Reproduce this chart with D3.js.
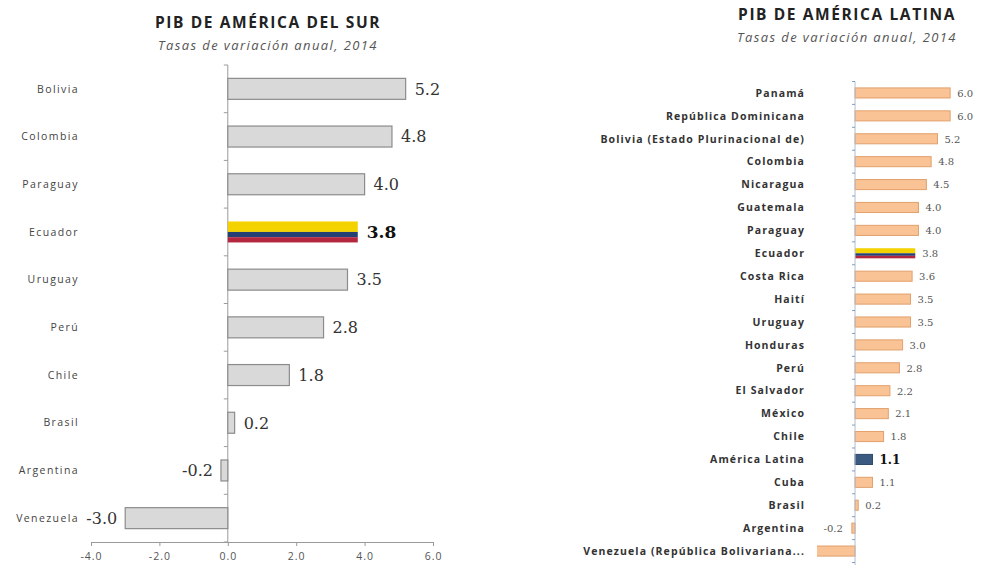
<!DOCTYPE html>
<html>
<head>
<meta charset="utf-8">
<script src="https://cdn.jsdelivr.net/npm/d3@7"></script>
<style>
  html, body { margin: 0; padding: 0; background: #fff; }
  svg { display: block; }
</style>
</head>
<body>
<svg id="chart" width="982" height="565"></svg>
<script>
// PIB de América del Sur, tasas de variación anual 2014
const categoriesSur = ["Bolivia", "Colombia", "Paraguay", "Ecuador", "Uruguay", "Perú", "Chile", "Brasil", "Argentina", "Venezuela"];
const valuesSur = [5.2, 4.8, 4.0, 3.8, 3.5, 2.8, 1.8, 0.2, -0.2, -3.0];
const ticksSur = [-4, -2, 0, 2, 4, 6];

// PIB de América Latina, tasas de variación anual 2014
const categoriesLat = ["Panamá", "República Dominicana", "Bolivia (Estado Plurinacional de)", "Colombia", "Nicaragua",
  "Guatemala", "Paraguay", "Ecuador", "Costa Rica", "Haití", "Uruguay", "Honduras", "Perú", "El Salvador", "México",
  "Chile", "América Latina", "Cuba", "Brasil", "Argentina", "Venezuela (República Bolivariana..."];
const valuesLat = [6.0, 6.0, 5.2, 4.8, 4.5, 4.0, 4.0, 3.8, 3.6, 3.5, 3.5, 3.0, 2.8, 2.2, 2.1, 1.8, 1.1, 1.1, 0.2, -0.2, -3.0];

const flagCountry = "Ecuador";
const regionTotal = "América Latina";

const loc = d3.formatLocale({decimal: ".", thousands: ",", grouping: [3], currency: ["", ""], minus: "-"});
const fmt = loc.format(".1f");

const svg = d3.select("#chart");

// Ecuador bar drawn as its flag: yellow half, blue and red quarters
function flagBar(g, x0, x1, y, h) {
  const xa = Math.min(x0, x1), w = Math.abs(x1 - x0);
  g.append("rect").attr("x", xa).attr("y", y).attr("width", w).attr("height", h / 2).attr("fill", "#f4d200");
  g.append("rect").attr("x", xa).attr("y", y + h / 2).attr("width", w).attr("height", h / 4).attr("fill", "#243f73");
  g.append("rect").attr("x", xa).attr("y", y + 3 * h / 4).attr("width", w).attr("height", h / 4).attr("fill", "#b3263e");
}

function titles(g, cx, yTitle, ySub, title) {
  g.append("text").attr("x", cx).attr("y", yTitle).attr("text-anchor", "middle")
    .attr("font-family", "Open Sans").attr("font-weight", "bold").attr("font-size", 15.5)
    .attr("letter-spacing", 1.6).attr("fill", "#222")
    .text(title);
  g.append("text").attr("x", cx).attr("y", ySub).attr("text-anchor", "middle")
    .attr("font-family", "Open Sans").attr("font-style", "italic").attr("font-size", 13)
    .attr("letter-spacing", 1.4).attr("fill", "#555")
    .text("Tasas de variación anual, 2014");
}

/* ---------- left panel ---------- */
{
  const x = d3.scaleLinear().domain([-4, 6]).range([91, 433]);
  const top = 65, bottom = 542;
  const y = d3.scaleBand().domain(categoriesSur).range([top, bottom]).paddingInner(0.56).paddingOuter(0.28);
  const g = svg.append("g");

  titles(g, 268, 28, 50, "PIB DE AMÉRICA DEL SUR");

  // x axis
  const xAxis = g.append("g").attr("transform", `translate(0,${bottom})`)
    .call(d3.axisBottom(x).tickValues(ticksSur).tickFormat(fmt).tickSize(4).tickSizeOuter(0));
  xAxis.select(".domain").attr("stroke", "#9a9a9a");
  xAxis.selectAll(".tick line").attr("stroke", "#9a9a9a");
  xAxis.selectAll(".tick text").attr("font-family", "Open Sans").attr("font-size", 10.5)
    .attr("letter-spacing", 1).attr("fill", "#555").attr("dy", "1.05em");

  // y axis line with ticks at band boundaries
  const n = categoriesSur.length;
  const bounds = d3.range(n + 1).map(i => top + i * ((bottom - top) / n));
  g.append("line").attr("x1", x(0)).attr("x2", x(0)).attr("y1", top).attr("y2", bottom).attr("stroke", "#9a9a9a");
  g.selectAll(".ytick").data(bounds).join("line")
    .attr("x1", x(0) - 4).attr("x2", x(0)).attr("y1", d => d).attr("y2", d => d).attr("stroke", "#9a9a9a");

  // category labels
  g.selectAll(".cat").data(categoriesSur).join("text")
    .attr("x", 79).attr("y", d => y(d) + y.bandwidth() / 2).attr("dy", "0.35em")
    .attr("text-anchor", "end").attr("font-family", "Open Sans").attr("font-size", 10.5)
    .attr("letter-spacing", 1.4).attr("fill", "#444")
    .text(d => d);

  // bars and value labels
  categoriesSur.forEach((c, i) => {
    const v = valuesSur[i];
    const x0 = x(0), x1 = x(v);
    if (c === flagCountry) {
      flagBar(g, x0, x1, y(c), y.bandwidth());
    } else {
      g.append("rect").attr("x", Math.min(x0, x1)).attr("y", y(c)).attr("width", Math.abs(x1 - x0)).attr("height", y.bandwidth())
        .attr("fill", "#d9d9d9").attr("stroke", "#8c8c8c").attr("stroke-width", 1.2);
    }
    const bold = c === flagCountry;
    g.append("text")
      .attr("x", v >= 0 ? x1 + 9 : x1 - 8).attr("y", y(c) + y.bandwidth() / 2).attr("dy", "0.36em")
      .attr("text-anchor", v >= 0 ? "start" : "end")
      .attr("font-family", "DejaVu Serif").attr("font-size", bold ? 17 : 16)
      .attr("font-weight", bold ? "bold" : "normal").attr("fill", bold ? "#111" : "#333")
      .text(fmt(v));
  });
}

/* ---------- right panel ---------- */
{
  const x = d3.scaleLinear().domain([-2.4, 7.0]).range([817, 966]);
  const top = 81.5, bottom = 562.5;
  const y = d3.scaleBand().domain(categoriesLat).range([top, bottom]).paddingInner(0.56).paddingOuter(0.28);
  const g = svg.append("g");

  titles(g, 847, 20, 42, "PIB DE AMÉRICA LATINA");

  svg.append("defs").append("clipPath").attr("id", "plotLat")
    .append("rect").attr("x", x.range()[0]).attr("y", top).attr("width", x.range()[1] - x.range()[0]).attr("height", bottom - top);

  const bars = g.append("g").attr("clip-path", "url(#plotLat)");

  categoriesLat.forEach((c, i) => {
    const v = valuesLat[i];
    const x0 = x(0), x1 = x(v);
    const isTotal = c === regionTotal;
    if (c === flagCountry) {
      flagBar(bars, x0, x1, y(c), y.bandwidth());
    } else {
      bars.append("rect").attr("x", Math.min(x0, x1)).attr("y", y(c)).attr("width", Math.abs(x1 - x0)).attr("height", y.bandwidth())
        .attr("fill", isTotal ? "#3b5a80" : "#f9c396").attr("stroke", isTotal ? "#2e4a6c" : "#e2a06c").attr("stroke-width", 1);
    }
    // values beyond the plotted range keep no label
    if (v > x.domain()[0]) {
      g.append("text")
        .attr("x", v >= 0 ? x1 + 7 : x1 - 9).attr("y", y(c) + y.bandwidth() / 2).attr("dy", "0.38em")
        .attr("text-anchor", v >= 0 ? "start" : "end")
        .attr("font-family", "DejaVu Serif").attr("font-size", isTotal ? 12 : 10)
        .attr("font-weight", isTotal ? "bold" : "normal").attr("fill", isTotal ? "#111" : "#555")
        .text(fmt(v));
    }
  });

  // y axis line with small ticks at band boundaries
  const n = categoriesLat.length;
  const bounds = d3.range(n + 1).map(i => top + i * ((bottom - top) / n));
  g.append("line").attr("x1", x(0)).attr("x2", x(0)).attr("y1", top).attr("y2", 565).attr("stroke", "#b4bccb");
  g.selectAll(".ytick").data(bounds).join("line")
    .attr("x1", x(0) - 3).attr("x2", x(0)).attr("y1", d => d).attr("y2", d => d).attr("stroke", "#7f9cc4");

  // category labels
  g.selectAll(".cat").data(categoriesLat).join("text")
    .attr("x", 805).attr("y", d => y(d) + y.bandwidth() / 2).attr("dy", "0.36em")
    .attr("text-anchor", "end").attr("font-family", "Open Sans").attr("font-weight", "bold")
    .attr("font-size", 10.5).attr("letter-spacing", 1.1).attr("fill", "#333")
    .text(d => d);
}
</script>
</body>
</html>
